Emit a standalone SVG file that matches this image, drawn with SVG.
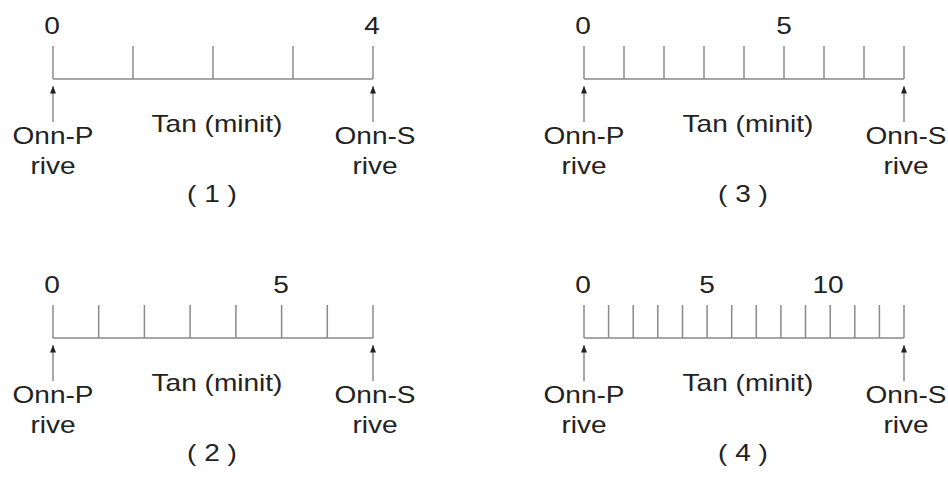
<svg xmlns="http://www.w3.org/2000/svg" width="948" height="502" viewBox="0 0 948 502">
<defs>
<style>
.t{font-family:"Liberation Sans",Arial,Helvetica,sans-serif;font-size:23px;fill:#222;text-anchor:middle}
.ax{stroke:#8a8a8a;stroke-width:1.5;fill:none}
.ar{stroke:#8a8a8a;stroke-width:1.5;fill:none;marker-end:url(#ah)}
</style>
<marker id="ah" viewBox="0 0 10 8" refX="10" refY="4" markerWidth="8" markerHeight="6" markerUnits="userSpaceOnUse" orient="auto">
<path d="M0,0 L10,4 L0,8 Z" fill="#222"/>
</marker>
</defs>
<rect width="948" height="502" fill="#fff"/>

<g id="panel1">
<path class="ax" d="M53,79 H373 M53,46 V79 M133,46 V79 M213,46 V79 M293,46 V79 M373,46 V79"/>
<text class="t" transform="translate(52,34) scale(1.22,1)">0</text>
<text class="t" transform="translate(372,34) scale(1.22,1)">4</text>
<text class="t" transform="translate(217,132) scale(1.22,1)">Tan (minit)</text>
<text class="t" transform="translate(53,144) scale(1.22,1)">Onn-P</text>
<text class="t" transform="translate(53,174) scale(1.22,1)">rive</text>
<text class="t" transform="translate(375,144) scale(1.22,1)">Onn-S</text>
<text class="t" transform="translate(375,174) scale(1.22,1)">rive</text>
<text class="t" transform="translate(212,202) scale(1.22,1)">( 1 )</text>
</g>

<g id="panel3" transform="translate(531,0)">
<path class="ax" d="M53,79 H373 M53,46 V79 M93,46 V79 M133,46 V79 M173,46 V79 M213,46 V79 M253,46 V79 M293,46 V79 M333,46 V79 M373,46 V79"/>
<text class="t" transform="translate(52,34) scale(1.22,1)">0</text>
<text class="t" transform="translate(253,34) scale(1.22,1)">5</text>
<text class="t" transform="translate(217,132) scale(1.22,1)">Tan (minit)</text>
<text class="t" transform="translate(53,144) scale(1.22,1)">Onn-P</text>
<text class="t" transform="translate(53,174) scale(1.22,1)">rive</text>
<text class="t" transform="translate(375,144) scale(1.22,1)">Onn-S</text>
<text class="t" transform="translate(375,174) scale(1.22,1)">rive</text>
<text class="t" transform="translate(212,202) scale(1.22,1)">( 3 )</text>
</g>

<g id="panel2" transform="translate(0,259)">
<path class="ax" d="M53,79 H373 M53,46 V79 M98.7,46 V79 M144.4,46 V79 M190.1,46 V79 M235.9,46 V79 M281.6,46 V79 M327.3,46 V79 M373,46 V79"/>
<text class="t" transform="translate(52,34) scale(1.22,1)">0</text>
<text class="t" transform="translate(281,34) scale(1.22,1)">5</text>
<text class="t" transform="translate(217,132) scale(1.22,1)">Tan (minit)</text>
<text class="t" transform="translate(53,144) scale(1.22,1)">Onn-P</text>
<text class="t" transform="translate(53,174) scale(1.22,1)">rive</text>
<text class="t" transform="translate(375,144) scale(1.22,1)">Onn-S</text>
<text class="t" transform="translate(375,174) scale(1.22,1)">rive</text>
<text class="t" transform="translate(212,202) scale(1.22,1)">( 2 )</text>
</g>

<g id="panel4" transform="translate(531,259)">
<path class="ax" d="M53,79 H373 M53,46 V79 M77.6,46 V79 M102.2,46 V79 M126.8,46 V79 M151.5,46 V79 M176.1,46 V79 M200.7,46 V79 M225.3,46 V79 M249.9,46 V79 M274.5,46 V79 M299.2,46 V79 M323.8,46 V79 M348.4,46 V79 M373,46 V79"/>
<text class="t" transform="translate(52,34) scale(1.22,1)">0</text>
<text class="t" transform="translate(176,34) scale(1.22,1)">5</text>
<text class="t" transform="translate(297,34) scale(1.22,1)">10</text>
<text class="t" transform="translate(217,132) scale(1.22,1)">Tan (minit)</text>
<text class="t" transform="translate(53,144) scale(1.22,1)">Onn-P</text>
<text class="t" transform="translate(53,174) scale(1.22,1)">rive</text>
<text class="t" transform="translate(375,144) scale(1.22,1)">Onn-S</text>
<text class="t" transform="translate(375,174) scale(1.22,1)">rive</text>
<text class="t" transform="translate(212,202) scale(1.22,1)">( 4 )</text>
</g>

<g id="connectors">
<path class="ar" d="M53,122 V86"/>
<path class="ar" d="M373,122 V86"/>
<path class="ar" d="M584,122 V86"/>
<path class="ar" d="M904,122 V86"/>
<path class="ar" d="M53,381 V345"/>
<path class="ar" d="M373,381 V345"/>
<path class="ar" d="M584,381 V345"/>
<path class="ar" d="M904,381 V345"/>
</g>
</svg>
